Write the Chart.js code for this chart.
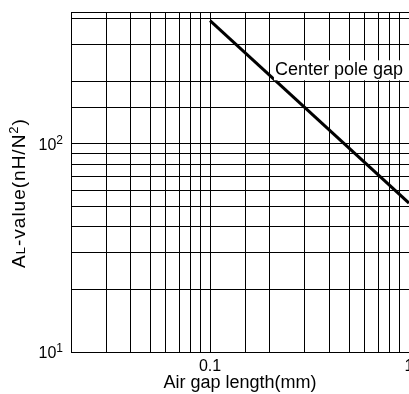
<!DOCTYPE html>
<html>
<head>
<meta charset="utf-8">
<script src="https://cdn.jsdelivr.net/npm/chart.js@4"></script>
<style>
    html, body { margin: 0; padding: 0; overflow: hidden; background: #fff; }
</style>
</head>
<body>
<canvas id="al-chart" width="430" height="394"></canvas>
<script>
const gapLength = [0.1, 1];          // mm
const alValue = [392, 52];           // nH/N^2
const seriesName = 'Center pole gap';
const xTickLabels = { 0.1: '0.1', 1: '1' };
const yTickValues = [10, 100];
const yTickExponents = ['1', '2'];

const FONT = '"Liberation Sans", Arial, sans-serif';

// draws text pieces [text, size, raise] one after another from x
function drawPieces(ctx, parts, x, y) {
    for (let p of parts) {
        ctx.font = p[1] + 'px ' + FONT;
        ctx.fillText(p[0], x, y - (p[2] || 0));
        x += ctx.measureText(p[0]).width;
    }
}

function piecesWidth(ctx, parts) {
    let w = 0;
    for (let p of parts) {
        ctx.font = p[1] + 'px ' + FONT;
        w += ctx.measureText(p[0]).width;
    }
    return w;
}

// axis titles, power-of-ten labels and the curve label
const annotate = {
    id: 'annotate',
    afterDraw(chart) {
        let ctx = chart.ctx;
        let area = chart.chartArea;
        let x = chart.scales.x;
        let y = chart.scales.y;
        ctx.save();
        ctx.fillStyle = '#000';

        // y tick labels 10^1, 10^2
        ctx.textAlign = 'left';
        ctx.textBaseline = 'alphabetic';
        for (let i = 0; i < yTickValues.length; i++) {
            let parts = [['10', 16], [yTickExponents[i], 12, 6]];
            let py = y.getPixelForValue(yTickValues[i]);
            let w = piecesWidth(ctx, parts);
            drawPieces(ctx, parts, area.left - 8 - w, py + 6);
        }

        // curve label with white background
        ctx.font = '18px ' + FONT;
        ctx.textBaseline = 'middle';
        let lx = x.getPixelForValue(0.2) + 5;
        let ly = y.getPixelForValue(226);
        let w = ctx.measureText(seriesName).width;
        ctx.fillStyle = '#fff';
        ctx.fillRect(lx - 1, ly - 10, w + 2, 20);
        ctx.fillStyle = '#000';
        ctx.fillText(seriesName, lx, ly);

        // x title
        ctx.textAlign = 'center';
        ctx.fillText('Air gap length(mm)', (area.left + 409) / 2, 383);

        // y title, "L" set smaller
        let parts = [['A', 19], ['L', 13], ['-value(nH/N', 19], ['2', 13, 7], [')', 19]];
        ctx.translate(18, 193);
        ctx.rotate(-Math.PI / 2);
        ctx.textAlign = 'left';
        ctx.textBaseline = 'alphabetic';
        ctx.letterSpacing = '1px';
        drawPieces(ctx, parts, -piecesWidth(ctx, parts) / 2, 7);
        ctx.restore();
    }
};

let ctx = document.getElementById('al-chart').getContext('2d');
new Chart(ctx, {
    type: 'line',
    data: {
        datasets: [{
            label: seriesName,
            data: gapLength.map((g, i) => ({ x: g, y: alValue[i] })),
            borderColor: '#000',
            borderWidth: 3,
            pointRadius: 0,
            fill: false
        }]
    },
    options: {
        responsive: false,
        animation: false,
        layout: {
            padding: { top: 12, right: 21, left: 0, bottom: 0 }
        },
        plugins: {
            legend: { display: false },
            tooltip: { enabled: false }
        },
        scales: {
            x: {
                type: 'logarithmic',
                min: 0.02,
                max: 1,
                afterFit: function (scale) { scale.height = 42; },
                grid: { color: '#000', lineWidth: 1, drawTicks: false },
                border: { color: '#000', width: 1 },
                ticks: {
                    autoSkip: false,
                    maxRotation: 0,
                    padding: 5,
                    color: '#000',
                    font: { family: FONT, size: 16 },
                    callback: function (value) {
                        return xTickLabels[value] || '';
                    }
                }
            },
            y: {
                type: 'logarithmic',
                min: 10,
                max: 431,
                afterFit: function (scale) { scale.width = 71; },
                grid: { color: '#000', lineWidth: 1, drawTicks: false },
                border: { color: '#000', width: 1 },
                ticks: {
                    autoSkip: false,
                    display: false
                }
            }
        }
    },
    plugins: [annotate]
});
</script>
</body>
</html>
